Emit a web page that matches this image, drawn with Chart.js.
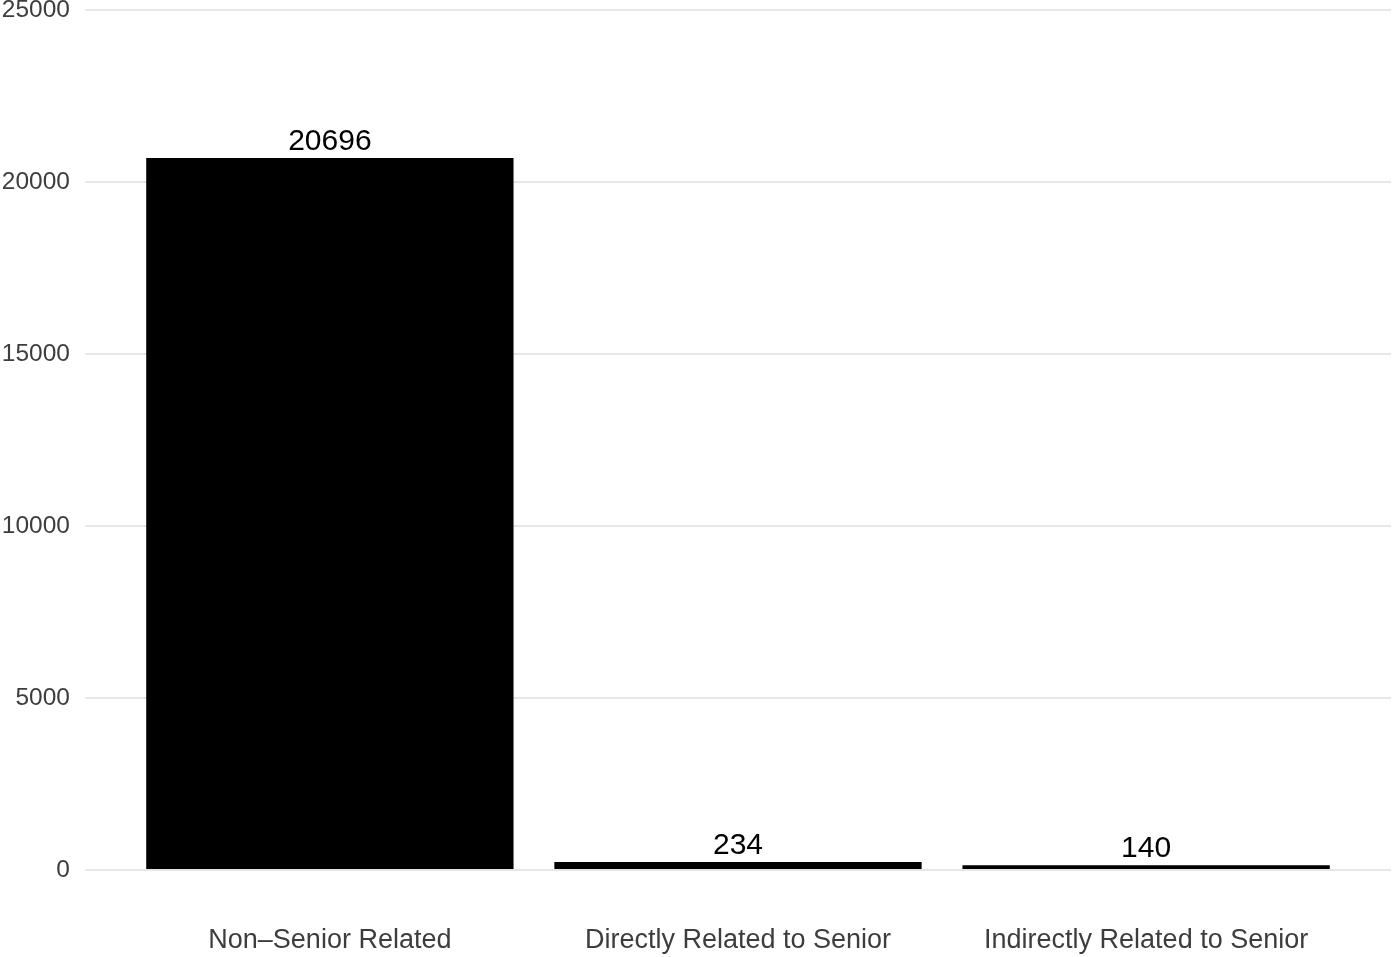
<!DOCTYPE html>
<html>
<head>
<meta charset="utf-8">
<script src="https://cdn.jsdelivr.net/npm/chart.js@4/dist/chart.umd.min.js"></script>
<style>
  html, body { margin: 0; padding: 0; background: #ffffff; }
  #wrap { width: 1393px; height: 957px; position: relative; }
</style>
</head>
<body>
<div id="wrap"><canvas id="c"></canvas></div>
<script>
const categories = ["Non\u2013Senior Related", "Directly Related to Senior", "Indirectly Related to Senior"];
const counts = [20696, 234, 140];
const yTicks = [0, 5000, 10000, 15000, 20000, 25000];

const valueLabels = {
  id: 'valueLabels',
  afterDatasetsDraw(chart) {
    const ctx = chart.ctx;
    const meta = chart.getDatasetMeta(0);
    ctx.save();
    ctx.font = '30px "Liberation Sans", Arial, sans-serif';
    ctx.fillStyle = '#000000';
    ctx.textAlign = 'center';
    ctx.textBaseline = 'alphabetic';
    meta.data.forEach((el, i) => {
      ctx.fillText(String(counts[i]), el.x, el.y - 8);
    });
    ctx.restore();
  }
};

new Chart(document.getElementById('c'), {
  type: 'bar',
  data: {
    datasets: [{
      data: categories.map((c, i) => ({ x: i + 1, y: counts[i] })),
      backgroundColor: '#000000',
      borderWidth: 0,
      barPercentage: 0.9,
      categoryPercentage: 1.0
    }]
  },
  options: {
    responsive: true,
    maintainAspectRatio: false,
    animation: false,
    layout: { padding: { top: 10, right: 2, left: 0, bottom: 0 } },
    plugins: { legend: { display: false }, tooltip: { enabled: false } },
    scales: {
      x: {
        type: 'linear',
        min: 0.4,
        max: 3.6,
        offset: false,
        border: { display: false },
        grid: { display: false, drawTicks: false, offset: false },
        afterBuildTicks(scale) { scale.ticks = categories.map((c, i) => ({ value: i + 1 })); },
        afterFit(scale) { scale.height = 87; scale.paddingLeft = 0; scale.paddingRight = 0; },
        ticks: {
          autoSkip: false,
          maxRotation: 0,
          padding: 54,
          color: '#3d3d3d',
          font: { family: '"Liberation Sans", Arial, sans-serif', size: 27 },
          callback: (v) => categories[Math.round(v) - 1]
        }
      },
      y: {
        min: 0,
        max: 25000,
        border: { display: false },
        afterBuildTicks(scale) { scale.ticks = yTicks.map(v => ({ value: v })); },
        afterFit(scale) { scale.width = 85; scale.paddingTop = 0; scale.paddingBottom = 0; },
        grid: { color: '#e6e6e6', lineWidth: 2, drawTicks: false },
        ticks: {
          padding: 15,
          color: '#3d3d3d',
          font: { family: '"Liberation Sans", Arial, sans-serif', size: 24.5 },
          callback: (v) => String(v)
        }
      }
    }
  },
  plugins: [valueLabels]
});
</script>
</body>
</html>
